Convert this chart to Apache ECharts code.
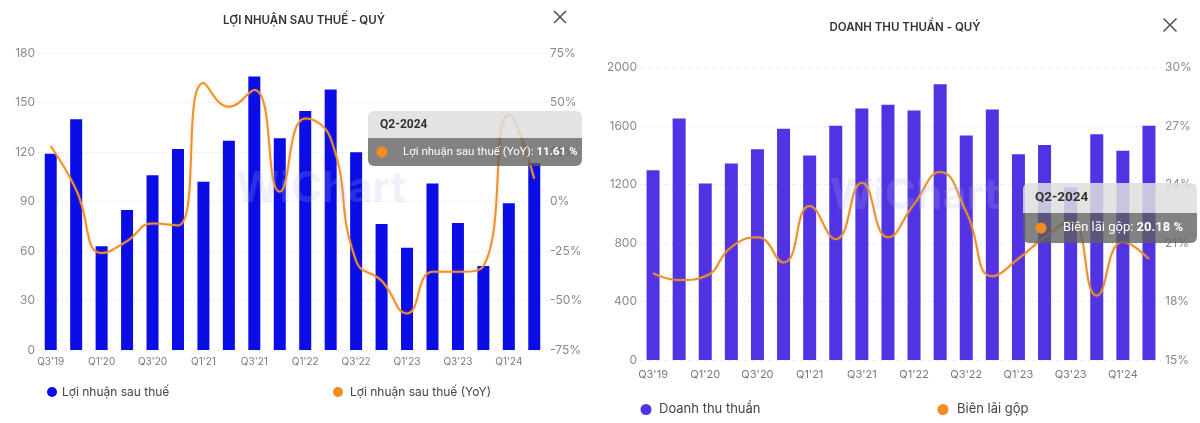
<!DOCTYPE html>
<html>
<head>
<meta charset="utf-8">
<script src="https://cdn.jsdelivr.net/npm/echarts@6/dist/echarts.min.js"></script>
<style>
html,body{margin:0;padding:0;background:#fff;}
#c{width:1200px;height:423px;}
</style>
</head>
<body>
<div id="c"></div>
<script>
// ---- data ----
const quarters = ["Q3'19","Q4'19","Q1'20","Q2'20","Q3'20","Q4'20","Q1'21","Q2'21","Q3'21","Q4'21","Q1'22","Q2'22","Q3'22","Q4'22","Q1'23","Q2'23","Q3'23","Q4'23","Q1'24","Q2'24"];
const profit = [119,140,63,85,106,122,102,127,166,128.5,145,158,120,76.5,62,101,77,51,89,113.5];
const profitYoY = [28,6,-26,-20,-11,-12,60,48,56.5,5,42,32,-30,-40,-56.5,-35.5,-35.5,-32.5,44,11.61];
const revenue = [1298,1653,1207,1344,1442,1582,1399,1602,1721,1746,1707,1886,1536,1714,1407,1471,1182,1544,1432,1603];
const grossMargin = [19.46,19.1,19.3,20.8,21.3,20.0,22.9,21.2,24.1,21.3,23.0,24.65,22.6,19.3,20.2,21.3,22.1,18.3,21.07,20.18];
const leftTicks = {min:0,max:180,interval:30};
const leftPctTicks = {min:-75,max:75,interval:25};
const rightTicks = {min:0,max:2000,interval:400};
const rightPctTicks = {min:15,max:30,interval:3};

const FONT = 'Inter, "Noto Sans", sans-serif';
const TIPFONT = 'Roboto, Inter, sans-serif';
const ORANGE = '#f0902a';
const lastQ = quarters[quarters.length-1];
const tipTitle = lastQ.slice(0,2) + '-20' + lastQ.slice(3);

const chart = echarts.init(document.getElementById('c'), null, {renderer:'canvas'});

function yAx(grid, pos, t, suffix, showSplit){
  return {
    type:'value', gridIndex:grid, position:pos, min:t.min, max:t.max, interval:t.interval,
    axisLine:{show:false}, axisTick:{show:false},
    axisLabel:{color:'#8a8a8a', fontSize:12, fontFamily:FONT, margin:3, formatter:function(v){return String(v)+suffix;}},
    splitLine:{show:showSplit, lineStyle:{color:'#d9d9d9', type:[1,3], width:1}}
  };
}
function xAx(grid, margin, size){
  return {
    type:'category', gridIndex:grid, data:quarters, boundaryGap:true,
    axisLine:{show:false}, axisTick:{show:false},
    axisLabel:{color:'#7a7a7a', fontSize:size, fontFamily:FONT, interval:1, margin:margin}
  };
}
function tooltipGroup(x, y, w, h1, h2, title, label, value, fs, dotX, textX){
  const Z = 100;
  return {
    type:'group', z:Z, children:[
      {type:'rect', z:Z, shape:{x:x,y:y,width:w,height:h1,r:[6,6,0,0]}, style:{fill:'rgba(222,222,222,0.85)'}},
      {type:'rect', z:Z, shape:{x:x,y:y+h1,width:w,height:h2,r:[0,0,6,6]}, style:{fill:'rgba(95,95,95,0.78)'}},
      {type:'text', z:Z+1, x:x+12, y:y+h1/2, style:{text:title, fill:'#333', font:'bold '+(fs+0.5)+'px '+TIPFONT, verticalAlign:'middle'}},
      {type:'circle', z:Z+1, shape:{cx:x+dotX, cy:y+h1+h2/2, r:5.5}, style:{fill:'#f28c1e'}},
      {type:'text', z:Z+1, x:x+textX, y:y+h1+h2/2, style:{
        text:'{a|'+label+': }{b|'+value.toFixed(2)+' %}',
        verticalAlign:'middle',
        rich:{a:{fill:'#fff', font:fs+'px '+TIPFONT}, b:{fill:'#fff', font:'bold '+fs+'px '+TIPFONT}}
      }}
    ]
  };
}
function closeX(cx, cy, s){
  return {type:'group', z:10, children:[
    {type:'line', z:10, shape:{x1:cx-s,y1:cy-s,x2:cx+s,y2:cy+s}, style:{stroke:'#555',lineWidth:1.6}},
    {type:'line', z:10, shape:{x1:cx-s,y1:cy+s,x2:cx+s,y2:cy-s}, style:{stroke:'#555',lineWidth:1.6}}
  ]};
}
function leg(name, left, top, size, fs, pad){
  return {data:[name], left:left, top:top, padding:0, icon:'circle', itemWidth:size, itemHeight:size,
    textStyle:{fontSize:fs, color:'#444', fontFamily:FONT, padding:[0,0,0,pad]}};
}

const option = {
  animation:false,
  textStyle:{fontFamily:FONT},
  title:[
    {text:'LỢI NHUẬN SAU THUẾ - QUÝ', left:299, top:10, textAlign:'center',
     textStyle:{fontSize:11.5, fontWeight:600, color:'#333', fontFamily:FONT}},
    {text:'DOANH THU THUẦN - QUÝ', left:900, top:17, textAlign:'center',
     textStyle:{fontSize:11.5, fontWeight:600, color:'#333', fontFamily:FONT}}
  ],
  legend:[
    leg('Lợi nhuận sau thuế', 47, 386, 10, 12, 0),
    leg('Lợi nhuận sau thuế (YoY)', 333, 386, 10, 12, 2),
    leg('Doanh thu thuần', 640.5, 403, 11, 13, 2.5),
    leg('Biên lãi gộp', 937.5, 403, 11, 13, 3.5)
  ],
  grid:[
    {left:38, right:653, top:53.3, bottom:73},
    {left:640, right:38, top:67.7, bottom:63}
  ],
  xAxis:[ xAx(0, 7, 10), xAx(1, 9, 11) ],
  yAxis:[
    yAx(0,'left',leftTicks,'',true),
    yAx(0,'right',leftPctTicks,'%',false),
    yAx(1,'left',rightTicks,'',true),
    yAx(1,'right',rightPctTicks,'%',false)
  ],
  series:[
    {name:'Lợi nhuận sau thuế', type:'bar', xAxisIndex:0, yAxisIndex:0, data:profit, barWidth:12,
     itemStyle:{color:'#0a0de6'}},
    {name:'Lợi nhuận sau thuế (YoY)', type:'line', xAxisIndex:0, yAxisIndex:1, data:profitYoY, smooth:0.5,
     symbol:'none', itemStyle:{color:'#f28c1e'},
     lineStyle:{color:ORANGE, width:2, shadowColor:'rgba(240,140,40,0.35)', shadowBlur:3}},
    {name:'Doanh thu thuần', type:'bar', xAxisIndex:1, yAxisIndex:2, data:revenue, barWidth:13,
     itemStyle:{color:'#5133e4'}},
    {name:'Biên lãi gộp', type:'line', xAxisIndex:1, yAxisIndex:3, data:grossMargin, smooth:0.5,
     symbol:'none', itemStyle:{color:'#f28c1e'},
     lineStyle:{color:'#e8902e', width:2, shadowColor:'rgba(240,140,40,0.35)', shadowBlur:3}}
  ],
  graphic:[
    {type:'text', x:236, y:168, z:5, style:{text:'WiChart', fill:'rgba(175,180,225,0.2)', font:'bold 42px '+FONT}},
    {type:'text', x:830, y:175, z:5, style:{text:'WiChart', fill:'rgba(175,180,225,0.2)', font:'bold 42px '+FONT}},
    closeX(560, 17, 6),
    closeX(1170, 25, 6.5),
    tooltipGroup(368, 111, 214, 27, 28, tipTitle, 'Lợi nhuận sau thuế (YoY)', profitYoY[profitYoY.length-1], 11.5, 14, 35),
    tooltipGroup(1023, 183, 174, 30, 30, tipTitle, 'Biên lãi gộp', grossMargin[grossMargin.length-1], 13, 18, 40)
  ]
};
chart.setOption(option);
</script>
</body>
</html>
